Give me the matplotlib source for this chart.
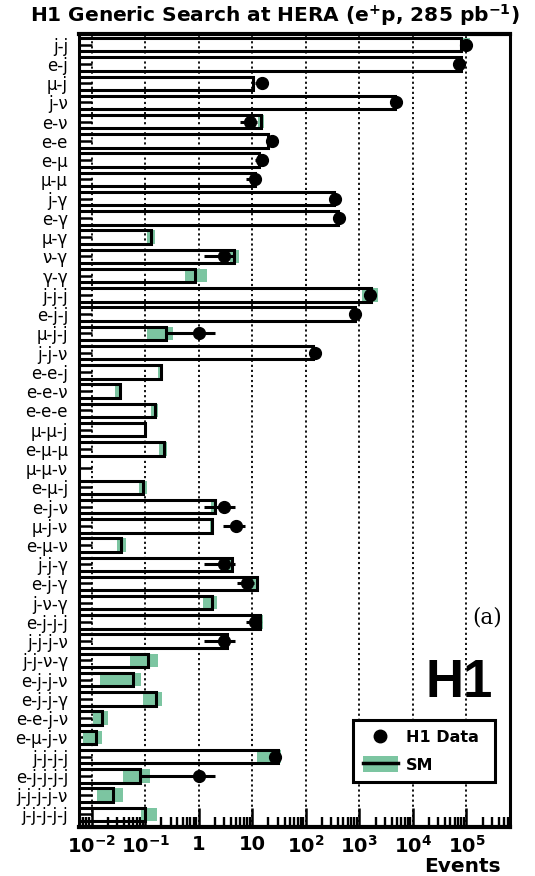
"""
plot.py - H1 generic search at HERA (e+p, 285 pb^-1): event yields per final state.
"""

import matplotlib
matplotlib.use("Agg")
import matplotlib.pyplot as plt
from matplotlib.lines import Line2D
from matplotlib.patches import Patch
from matplotlib.ticker import FixedLocator, LogLocator, NullFormatter

plt.rcParams.update({
    "font.family": "DejaVu Sans",
    "mathtext.fontset": "dejavusans",
    "mathtext.default": "bf",
})

GREEN = "#7cc5a1"

# final states, top to bottom
CLASSES = [
    "j-j", "e-j", "μ-j", "j-ν", "e-ν", "e-e", "e-μ", "μ-μ", "j-γ", "e-γ",
    "μ-γ", "ν-γ", "γ-γ", "j-j-j", "e-j-j", "μ-j-j", "j-j-ν", "e-e-j", "e-e-ν",
    "e-e-e", "μ-μ-j", "e-μ-μ", "μ-μ-ν", "e-μ-j", "e-j-ν", "μ-j-ν", "e-μ-ν",
    "j-j-γ", "e-j-γ", "j-ν-γ", "e-j-j-j", "j-j-j-ν", "j-j-ν-γ", "e-j-j-ν",
    "e-j-j-γ", "e-e-j-ν", "e-μ-j-ν", "j-j-j-j", "e-j-j-j-j", "j-j-j-j-ν",
    "j-j-j-j-j",
]

# SM expectation and its uncertainty band
SM = [
    8.0e4, 7.8e4, 10.5, 4600, 14.5, 20, 13.5, 11, 330, 390,
    0.13, 4.6, 0.85, 1650, 810, 0.24, 135, 0.20, 0.034,
    0.15, 0.10, 0.22, 0.003, 0.091, 2.0, 1.75, 0.036,
    4.1, 12, 1.78, 13.8, 3.3, 0.115, 0.06,
    0.16, 0.0155, 0.0118, 30, 0.08, 0.025,
    0.1,
]
SM_LO = [
    7.5e4, 7.2e4, 9.8, 4300, 12.5, 18.5, 12.5, 10.2, 310, 370,
    0.11, 3.8, 0.55, 1100, 750, 0.107, 125, 0.17, 0.027,
    0.13, 0.10, 0.18, 0.002, 0.075, 1.7, 1.6, 0.030,
    3.5, 9.5, 1.2, 10.5, 2.5, 0.053, 0.0145,
    0.09, 0.0107, 0.0069, 12, 0.039, 0.0123,
    0.085,
]
SM_HI = [
    1.15e5, 8.5e4, 11.2, 4900, 16.5, 21.5, 14.5, 11.8, 350, 410,
    0.155, 5.6, 1.4, 2250, 880, 0.33, 145, 0.21, 0.037,
    0.17, 0.11, 0.25, 0.004, 0.11, 2.2, 1.9, 0.043,
    4.6, 13.5, 2.2, 15.5, 3.7, 0.175, 0.085,
    0.21, 0.0204, 0.0155, 35, 0.123, 0.039,
    0.165,
]

# observed events (None = no events) and error bar ends
DATA = [
    1.0e5, 7.4e4, 15, 4900, 9, 23, 15, 11, 345, 420,
    None, 3, None, 1550, 810, 1, 148, None, None,
    None, None, None, None, None, 3, 5, None,
    3, 8, None, 11, 3, None, None,
    None, None, None, 26, 1, None,
    None,
]
DATA_LO = [
    9.9e4, 7.3e4, 11, 4830, 6, 18, 11, 7.7, 326, 400,
    None, 1.27, None, 1510, 780, 0.24, 136, None, None,
    None, None, None, None, None, 1.27, 2.8, None,
    1.27, 5.2, None, 7.7, 1.27, None, None,
    None, None, None, 21, 0.08, None,
    None,
]
DATA_HI = [
    1.01e5, 7.5e4, 19, 4970, 12, 28, 19, 14.3, 364, 440,
    None, 4.73, None, 1590, 840, 2.0, 160, None, None,
    None, None, None, None, None, 4.73, 7.2, None,
    4.73, 10.8, None, 14.3, 4.73, None, None,
    None, None, None, 31, 2.0, None,
    None,
]

DECADES = [1e-2, 1e-1, 1, 10, 1e2, 1e3, 1e4, 1e5]
DECADE_LABELS = ["$10^{-2}$", "$10^{-1}$", "1", "10", "$10^{2}$",
                 "$10^{3}$", "$10^{4}$", "$10^{5}$"]

BAR_BASE = 1e-4
BAR_H = 0.7


def main() -> None:
    fig = plt.figure(figsize=(5.35, 8.76), dpi=100)
    ax = fig.add_axes([0.1477, 0.0565, 0.8056, 0.9047])

    rows = list(range(len(CLASSES)))

    # SM uncertainty band, then the SM bar outline on top
    ax.barh(rows, [h - l for l, h in zip(SM_LO, SM_HI)], left=SM_LO,
            height=BAR_H, color=GREEN, linewidth=0, zorder=2)
    ax.barh(rows, [s - BAR_BASE for s in SM], left=BAR_BASE, height=BAR_H,
            fill=False, edgecolor="black", linewidth=2.2, zorder=3)

    # data points
    for i, (d, lo, hi) in enumerate(zip(DATA, DATA_LO, DATA_HI)):
        if d is None:
            continue
        ax.errorbar([d], [i], xerr=[[d - lo], [hi - d]], fmt="o", color="black",
                    ms=8.5, elinewidth=2.2, capsize=0, zorder=5)

    ax.set_xscale("log")
    ax.set_xlim(5.8e-3, 6.5e5)
    ax.set_ylim(len(CLASSES) - 0.37, -0.56)

    ax.xaxis.set_major_locator(FixedLocator(DECADES))
    ax.xaxis.set_minor_locator(LogLocator(base=10, subs=range(2, 10), numticks=20))
    ax.xaxis.set_minor_formatter(NullFormatter())
    ax.set_xticklabels(DECADE_LABELS, fontsize=14, fontweight="bold")
    ax.tick_params(axis="x", which="major", direction="in", length=14, width=1.8,
                   pad=6, top=False)
    ax.tick_params(axis="x", which="minor", direction="in", length=7.5, width=1.7,
                   top=False)

    ax.set_yticks(rows)
    ax.set_yticklabels(CLASSES, fontsize=12)
    ax.tick_params(axis="y", which="major", direction="in", length=9.5, width=1.8,
                   pad=8, right=False)
    ax.tick_params(axis="y", which="minor", left=False, right=False)

    ax.grid(True, axis="x", which="major", color="black", linestyle=(0, (1.2, 1.6)),
            linewidth=1.3, zorder=1)
    ax.set_axisbelow(True)

    ax.spines["top"].set_linewidth(3.0)
    ax.spines["bottom"].set_linewidth(3.0)
    ax.spines["left"].set_linewidth(2.2)
    ax.spines["right"].set_linewidth(2.2)

    ax.text(0.979, -0.0505, "Events", transform=ax.transAxes, ha="right",
            va="center", fontsize=14.5, fontweight="bold")

    fig.text(0.514, 0.983, r"H1 Generic Search at HERA (e$^{+}$p, 285 pb$^{-1}$)",
             ha="center", va="center", fontsize=14.5, fontweight="bold")

    ax.text(0.9606, 0.1634, "H1", transform=ax.transAxes, ha="right",
            va="baseline", fontsize=38, fontweight="bold",
            family="Liberation Sans", zorder=6)
    ax.text(0.948, 0.2637, "(a)", transform=ax.transAxes, ha="center",
            va="center", fontsize=15.5, family="DejaVu Serif", zorder=6)

    handles = [
        Line2D([], [], marker="o", ls="none", color="black", ms=9),
        (Patch(facecolor=GREEN, linewidth=0),
         Line2D([], [], color="black", lw=2.5)),
    ]
    leg = ax.legend(handles, ["H1 Data", "SM"], loc="lower left",
                    bbox_to_anchor=(0.636, 0.056, 0.329, 0.083), mode="expand",
                    borderaxespad=0, fancybox=False, framealpha=1,
                    handlelength=2.2, handleheight=1.1, handletextpad=0.5,
                    borderpad=0.6, labelspacing=0.7,
                    prop={"weight": "bold", "size": 11.5})
    leg.get_frame().set_edgecolor("black")
    leg.get_frame().set_linewidth(2.2)
    leg.set_zorder(7)

    fig.savefig("out.png", dpi=100)
    plt.close(fig)


if __name__ == "__main__":
    main()
